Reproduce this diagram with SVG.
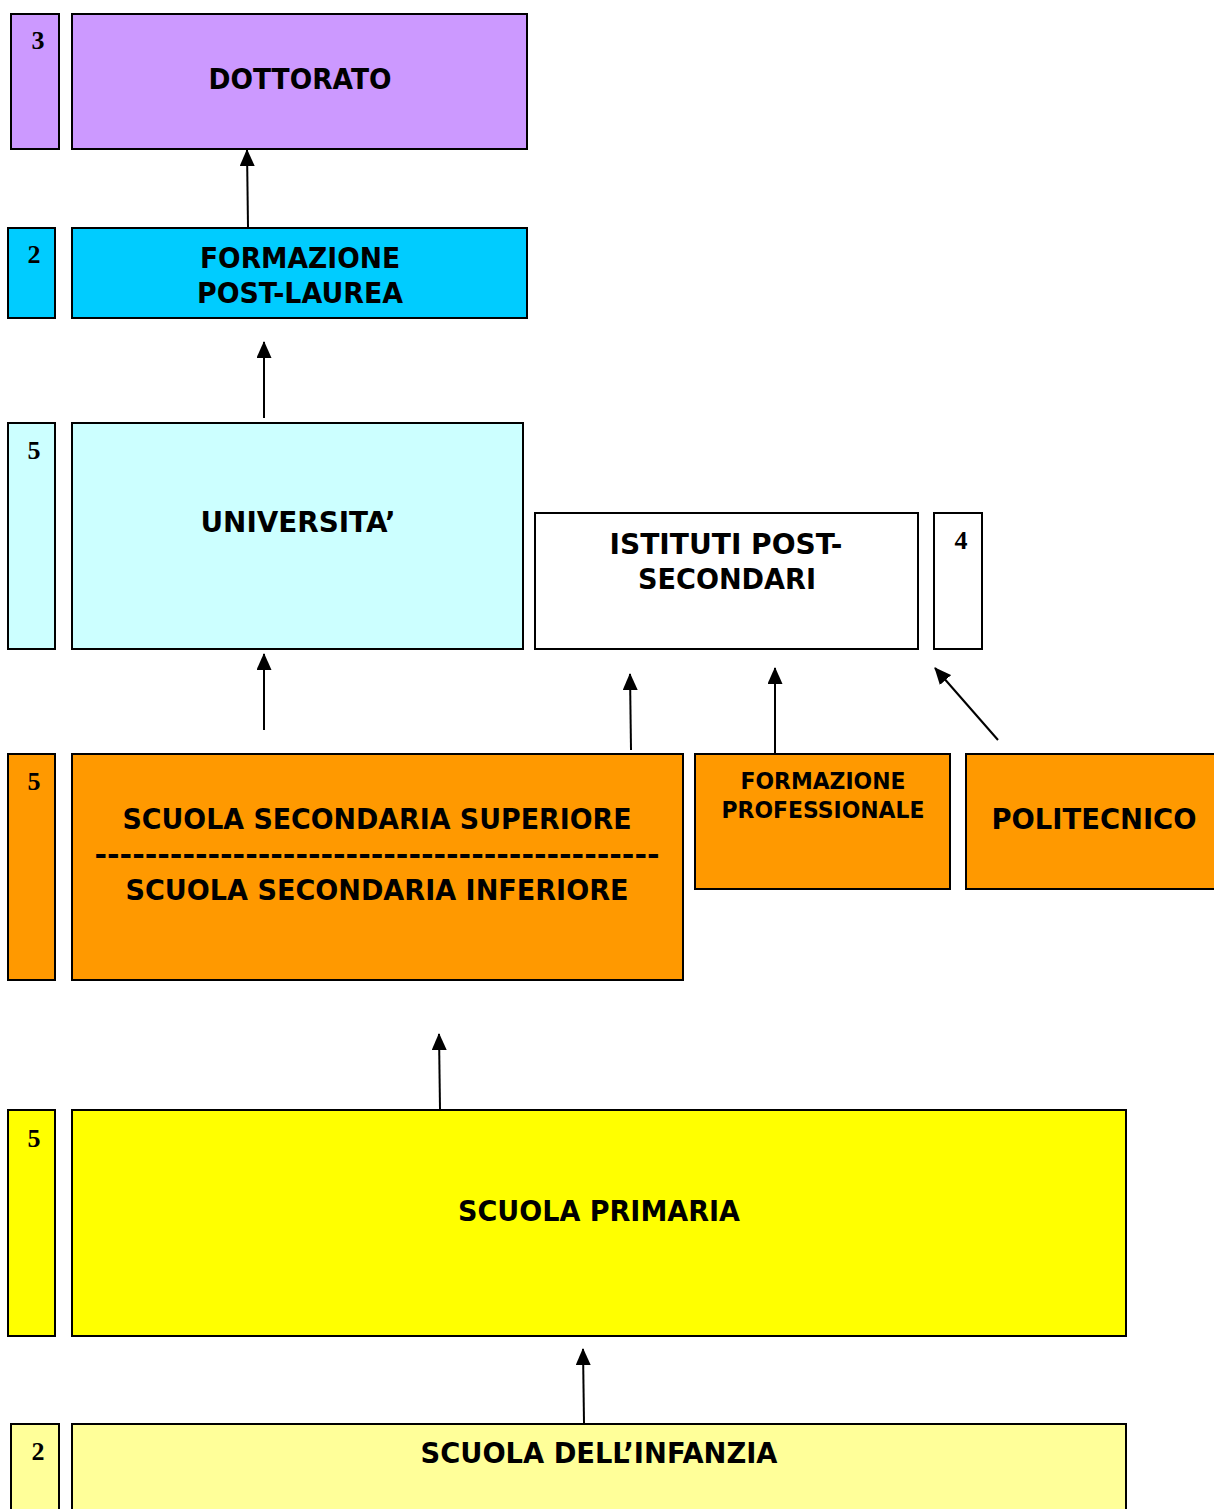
<svg xmlns="http://www.w3.org/2000/svg" width="1214" height="1509" viewBox="0 0 1214 1509">
<defs>
<style>
.box{stroke:#000;stroke-width:2}
.lbl{font-family:"DejaVu Sans",Verdana,sans-serif;font-weight:bold;font-size:28px;fill:#000;text-anchor:middle}
.sm{font-size:23px}
.num{font-family:"Liberation Serif","Times New Roman",serif;font-weight:bold;font-size:26px;fill:#000;text-anchor:middle}
.conn{stroke:#000;stroke-width:2;fill:none;marker-end:url(#ah)}
</style>
<marker id="ah" viewBox="0 0 17 15" refX="16" refY="7.5" markerWidth="17" markerHeight="15" markerUnits="userSpaceOnUse" orient="auto">
<path d="M0,0 L17,7.5 L0,15 z" fill="#000"/>
</marker>
</defs>
<rect width="1214" height="1509" fill="#fff"/>

<g id="dottorato">
<rect class="box" x="11" y="14" width="48" height="135" fill="#CC99FF"/>
<text class="num" x="38" y="49">3</text>
<rect class="box" x="72" y="14" width="455" height="135" fill="#CC99FF"/>
<text class="lbl" x="300" y="89" textLength="183" lengthAdjust="spacingAndGlyphs">DOTTORATO</text>
</g>

<g id="formazione-post-laurea">
<rect class="box" x="8" y="228" width="47" height="90" fill="#00CCFF"/>
<text class="num" x="34" y="263">2</text>
<rect class="box" x="72" y="228" width="455" height="90" fill="#00CCFF"/>
<text class="lbl" x="300" y="268" textLength="200" lengthAdjust="spacingAndGlyphs">FORMAZIONE</text>
<text class="lbl" x="300" y="303" textLength="206" lengthAdjust="spacingAndGlyphs">POST-LAUREA</text>
</g>

<g id="universita">
<rect class="box" x="8" y="423" width="47" height="226" fill="#CCFFFF"/>
<text class="num" x="34" y="459">5</text>
<rect class="box" x="72" y="423" width="451" height="226" fill="#CCFFFF"/>
<text class="lbl" x="298" y="532" textLength="195" lengthAdjust="spacingAndGlyphs">UNIVERSITA’</text>
</g>

<g id="istituti-post-secondari">
<rect class="box" x="535" y="513" width="383" height="136" fill="#fff"/>
<text class="lbl" x="726" y="554" textLength="233" lengthAdjust="spacingAndGlyphs">ISTITUTI POST-</text>
<text class="lbl" x="727" y="589" textLength="178" lengthAdjust="spacingAndGlyphs">SECONDARI</text>
<rect class="box" x="934" y="513" width="48" height="136" fill="#fff"/>
<text class="num" x="961" y="549">4</text>
</g>

<g id="scuola-secondaria">
<rect class="box" x="8" y="754" width="47" height="226" fill="#FF9900"/>
<text class="num" x="34" y="790">5</text>
<rect class="box" x="72" y="754" width="611" height="226" fill="#FF9900"/>
<text class="lbl" x="377" y="829" textLength="509" lengthAdjust="spacingAndGlyphs">SCUOLA SECONDARIA SUPERIORE</text>
<text class="lbl" x="377" y="864" textLength="565" lengthAdjust="spacingAndGlyphs">---------------------------------------------</text>
<text class="lbl" x="377" y="900" textLength="503" lengthAdjust="spacingAndGlyphs">SCUOLA SECONDARIA INFERIORE</text>
</g>

<g id="formazione-professionale">
<rect class="box" x="695" y="754" width="255" height="135" fill="#FF9900"/>
<text class="lbl sm" x="823" y="789" textLength="165" lengthAdjust="spacingAndGlyphs">FORMAZIONE</text>
<text class="lbl sm" x="823" y="818" textLength="203" lengthAdjust="spacingAndGlyphs">PROFESSIONALE</text>
</g>

<g id="politecnico">
<rect class="box" x="966" y="754" width="260" height="135" fill="#FF9900"/>
<text class="lbl" x="1094" y="829" textLength="205" lengthAdjust="spacingAndGlyphs">POLITECNICO</text>
</g>

<g id="scuola-primaria">
<rect class="box" x="8" y="1110" width="47" height="226" fill="#FFFF00"/>
<text class="num" x="34" y="1147">5</text>
<rect class="box" x="72" y="1110" width="1054" height="226" fill="#FFFF00"/>
<text class="lbl" x="599" y="1221" textLength="282" lengthAdjust="spacingAndGlyphs">SCUOLA PRIMARIA</text>
</g>

<g id="scuola-infanzia">
<rect class="box" x="11" y="1424" width="48" height="100" fill="#FFFF99"/>
<text class="num" x="38" y="1460">2</text>
<rect class="box" x="72" y="1424" width="1054" height="100" fill="#FFFF99"/>
<text class="lbl" x="599" y="1463" textLength="357" lengthAdjust="spacingAndGlyphs">SCUOLA DELL’INFANZIA</text>
</g>

<g id="connectors">
<line class="conn" x1="248" y1="227" x2="247" y2="150"/>
<line class="conn" x1="264" y1="418" x2="264" y2="342"/>
<line class="conn" x1="264" y1="730" x2="264" y2="654"/>
<line class="conn" x1="631" y1="750" x2="630" y2="674"/>
<line class="conn" x1="775" y1="753" x2="775" y2="668"/>
<line class="conn" x1="998" y1="740" x2="935" y2="668"/>
<line class="conn" x1="440" y1="1109" x2="439" y2="1034"/>
<line class="conn" x1="584" y1="1423" x2="583" y2="1349"/>
</g>
</svg>
